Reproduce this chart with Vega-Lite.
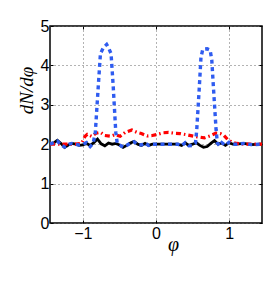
{
  "$schema": "https://vega.github.io/schema/vega-lite/v6.json",
  "width": 212,
  "height": 197,
  "autosize": "none",
  "padding": {"left": 50, "top": 26, "right": 11, "bottom": 61},
  "background": "white",
  "config": {
    "view": {"stroke": "black", "strokeWidth": 1.5},
    "axis": {
      "domain": false,
      "labelFont": "Liberation Sans",
      "labelFontSize": 16,
      "labelColor": "black",
      "tickColor": "black",
      "tickSize": -3,
      "tickWidth": 1,
      "gridColor": "#666",
      "gridDash": [1, 3],
      "gridWidth": 1
    }
  },
  "datasets": {
    "curves": [
      {"phi": -1.45, "v": 2.0, "s": "black"},
      {"phi": -1.4, "v": 2.03, "s": "black"},
      {"phi": -1.35, "v": 2.1, "s": "black"},
      {"phi": -1.3, "v": 2.02, "s": "black"},
      {"phi": -1.25, "v": 1.92, "s": "black"},
      {"phi": -1.2, "v": 1.98, "s": "black"},
      {"phi": -1.15, "v": 2.02, "s": "black"},
      {"phi": -1.1, "v": 2.0, "s": "black"},
      {"phi": -1.05, "v": 1.97, "s": "black"},
      {"phi": -1.0, "v": 1.98, "s": "black"},
      {"phi": -0.95, "v": 2.02, "s": "black"},
      {"phi": -0.9, "v": 1.97, "s": "black"},
      {"phi": -0.85, "v": 2.04, "s": "black"},
      {"phi": -0.8, "v": 2.13, "s": "black"},
      {"phi": -0.75, "v": 2.01, "s": "black"},
      {"phi": -0.7, "v": 1.96, "s": "black"},
      {"phi": -0.65, "v": 2.03, "s": "black"},
      {"phi": -0.6, "v": 2.0, "s": "black"},
      {"phi": -0.55, "v": 2.02, "s": "black"},
      {"phi": -0.5, "v": 1.98, "s": "black"},
      {"phi": -0.45, "v": 1.92, "s": "black"},
      {"phi": -0.4, "v": 1.97, "s": "black"},
      {"phi": -0.35, "v": 2.03, "s": "black"},
      {"phi": -0.3, "v": 2.07, "s": "black"},
      {"phi": -0.25, "v": 2.0, "s": "black"},
      {"phi": -0.2, "v": 1.97, "s": "black"},
      {"phi": -0.15, "v": 2.02, "s": "black"},
      {"phi": -0.1, "v": 1.97, "s": "black"},
      {"phi": -0.05, "v": 2.0, "s": "black"},
      {"phi": 0.0, "v": 2.0, "s": "black"},
      {"phi": 0.1, "v": 2.0, "s": "black"},
      {"phi": 0.2, "v": 2.0, "s": "black"},
      {"phi": 0.3, "v": 2.0, "s": "black"},
      {"phi": 0.35, "v": 1.97, "s": "black"},
      {"phi": 0.4, "v": 2.03, "s": "black"},
      {"phi": 0.45, "v": 1.97, "s": "black"},
      {"phi": 0.5, "v": 2.0, "s": "black"},
      {"phi": 0.55, "v": 2.04, "s": "black"},
      {"phi": 0.6, "v": 1.97, "s": "black"},
      {"phi": 0.65, "v": 1.92, "s": "black"},
      {"phi": 0.7, "v": 1.94, "s": "black"},
      {"phi": 0.75, "v": 2.02, "s": "black"},
      {"phi": 0.8, "v": 2.09, "s": "black"},
      {"phi": 0.85, "v": 2.0, "s": "black"},
      {"phi": 0.9, "v": 2.03, "s": "black"},
      {"phi": 0.95, "v": 1.97, "s": "black"},
      {"phi": 1.0, "v": 2.04, "s": "black"},
      {"phi": 1.05, "v": 2.0, "s": "black"},
      {"phi": 1.1, "v": 2.0, "s": "black"},
      {"phi": 1.2, "v": 2.02, "s": "black"},
      {"phi": 1.3, "v": 1.99, "s": "black"},
      {"phi": 1.45, "v": 2.0, "s": "black"},

      {"phi": -1.45, "v": 2.0, "s": "red"},
      {"phi": -1.3, "v": 2.0, "s": "red"},
      {"phi": -1.1, "v": 2.0, "s": "red"},
      {"phi": -1.02, "v": 2.02, "s": "red"},
      {"phi": -0.97, "v": 2.2, "s": "red"},
      {"phi": -0.94, "v": 2.25, "s": "red"},
      {"phi": -0.88, "v": 2.2, "s": "red"},
      {"phi": -0.82, "v": 2.28, "s": "red"},
      {"phi": -0.76, "v": 2.3, "s": "red"},
      {"phi": -0.7, "v": 2.22, "s": "red"},
      {"phi": -0.62, "v": 2.2, "s": "red"},
      {"phi": -0.56, "v": 2.24, "s": "red"},
      {"phi": -0.49, "v": 2.2, "s": "red"},
      {"phi": -0.42, "v": 2.3, "s": "red"},
      {"phi": -0.33, "v": 2.36, "s": "red"},
      {"phi": -0.26, "v": 2.3, "s": "red"},
      {"phi": -0.2, "v": 2.27, "s": "red"},
      {"phi": -0.12, "v": 2.21, "s": "red"},
      {"phi": -0.05, "v": 2.22, "s": "red"},
      {"phi": 0.02, "v": 2.25, "s": "red"},
      {"phi": 0.1, "v": 2.29, "s": "red"},
      {"phi": 0.17, "v": 2.3, "s": "red"},
      {"phi": 0.25, "v": 2.28, "s": "red"},
      {"phi": 0.33, "v": 2.27, "s": "red"},
      {"phi": 0.42, "v": 2.24, "s": "red"},
      {"phi": 0.52, "v": 2.2, "s": "red"},
      {"phi": 0.6, "v": 2.18, "s": "red"},
      {"phi": 0.66, "v": 2.16, "s": "red"},
      {"phi": 0.74, "v": 2.21, "s": "red"},
      {"phi": 0.82, "v": 2.28, "s": "red"},
      {"phi": 0.88, "v": 2.27, "s": "red"},
      {"phi": 0.93, "v": 2.22, "s": "red"},
      {"phi": 0.98, "v": 2.12, "s": "red"},
      {"phi": 1.03, "v": 2.06, "s": "red"},
      {"phi": 1.1, "v": 2.02, "s": "red"},
      {"phi": 1.2, "v": 2.0, "s": "red"},
      {"phi": 1.45, "v": 2.0, "s": "red"},

      {"phi": -1.45, "v": 2.0, "s": "blue"},
      {"phi": -1.4, "v": 2.04, "s": "blue"},
      {"phi": -1.35, "v": 2.08, "s": "blue"},
      {"phi": -1.3, "v": 1.98, "s": "blue"},
      {"phi": -1.25, "v": 1.93, "s": "blue"},
      {"phi": -1.2, "v": 2.0, "s": "blue"},
      {"phi": -1.15, "v": 2.02, "s": "blue"},
      {"phi": -1.1, "v": 2.0, "s": "blue"},
      {"phi": -1.05, "v": 1.98, "s": "blue"},
      {"phi": -1.0, "v": 2.0, "s": "blue"},
      {"phi": -0.95, "v": 2.04, "s": "blue"},
      {"phi": -0.9, "v": 1.94, "s": "blue"},
      {"phi": -0.86, "v": 2.02, "s": "blue"},
      {"phi": -0.83, "v": 2.3, "s": "blue"},
      {"phi": -0.79, "v": 3.46, "s": "blue"},
      {"phi": -0.76, "v": 4.3, "s": "blue"},
      {"phi": -0.72, "v": 4.45, "s": "blue"},
      {"phi": -0.675, "v": 4.53, "s": "blue"},
      {"phi": -0.65, "v": 4.45, "s": "blue"},
      {"phi": -0.615, "v": 4.3, "s": "blue"},
      {"phi": -0.585, "v": 3.46, "s": "blue"},
      {"phi": -0.55, "v": 2.3, "s": "blue"},
      {"phi": -0.53, "v": 2.02, "s": "blue"},
      {"phi": -0.5, "v": 1.98, "s": "blue"},
      {"phi": -0.45, "v": 1.93, "s": "blue"},
      {"phi": -0.4, "v": 1.97, "s": "blue"},
      {"phi": -0.35, "v": 2.03, "s": "blue"},
      {"phi": -0.3, "v": 2.06, "s": "blue"},
      {"phi": -0.25, "v": 1.99, "s": "blue"},
      {"phi": -0.2, "v": 1.98, "s": "blue"},
      {"phi": -0.15, "v": 2.03, "s": "blue"},
      {"phi": -0.1, "v": 1.97, "s": "blue"},
      {"phi": -0.05, "v": 2.0, "s": "blue"},
      {"phi": 0.0, "v": 2.0, "s": "blue"},
      {"phi": 0.1, "v": 2.0, "s": "blue"},
      {"phi": 0.2, "v": 2.0, "s": "blue"},
      {"phi": 0.3, "v": 2.0, "s": "blue"},
      {"phi": 0.35, "v": 1.96, "s": "blue"},
      {"phi": 0.4, "v": 2.04, "s": "blue"},
      {"phi": 0.45, "v": 1.96, "s": "blue"},
      {"phi": 0.5, "v": 1.97, "s": "blue"},
      {"phi": 0.54, "v": 2.03, "s": "blue"},
      {"phi": 0.557, "v": 2.36, "s": "blue"},
      {"phi": 0.593, "v": 3.46, "s": "blue"},
      {"phi": 0.615, "v": 4.2, "s": "blue"},
      {"phi": 0.64, "v": 4.41, "s": "blue"},
      {"phi": 0.7, "v": 4.42, "s": "blue"},
      {"phi": 0.74, "v": 4.39, "s": "blue"},
      {"phi": 0.763, "v": 4.14, "s": "blue"},
      {"phi": 0.785, "v": 3.46, "s": "blue"},
      {"phi": 0.822, "v": 2.36, "s": "blue"},
      {"phi": 0.84, "v": 2.03, "s": "blue"},
      {"phi": 0.87, "v": 1.96, "s": "blue"},
      {"phi": 0.9, "v": 2.04, "s": "blue"},
      {"phi": 0.95, "v": 1.97, "s": "blue"},
      {"phi": 1.0, "v": 2.05, "s": "blue"},
      {"phi": 1.05, "v": 2.0, "s": "blue"},
      {"phi": 1.1, "v": 2.0, "s": "blue"},
      {"phi": 1.2, "v": 2.02, "s": "blue"},
      {"phi": 1.3, "v": 1.99, "s": "blue"},
      {"phi": 1.45, "v": 2.0, "s": "blue"}
    ]
  },
  "data": {"name": "curves"},
  "layer": [
    {
      "transform": [{"filter": "datum.s === 'black'"}],
      "mark": {"type": "line", "color": "black", "strokeWidth": 2.8, "clip": true},
      "encoding": {
        "x": {
          "field": "phi", "type": "quantitative",
          "scale": {"domain": [-1.45, 1.45], "nice": false, "zero": false},
          "axis": {
            "orient": "bottom", "grid": true,
            "values": [-1, 0, 1], "format": "d", "labelPadding": 5,
            "title": "φ", "titleFont": "Liberation Serif", "titleFontStyle": "italic",
            "titleFontWeight": "normal", "titleFontSize": 20, "titleX": 123, "titleY": 21,
            "titleBaseline": "middle", "titleAlign": "center"
          }
        },
        "y": {
          "field": "v", "type": "quantitative",
          "scale": {"domain": [0, 5], "nice": false},
          "axis": {
            "orient": "left", "grid": true,
            "values": [0, 1, 2, 3, 4, 5], "labelPadding": 4,
            "title": "dN/dφ", "titleFont": "Liberation Serif", "titleFontStyle": "italic",
            "titleFontWeight": "normal", "titleFontSize": 19, "titleX": -24, "titleY": 64,
            "titleBaseline": "middle", "titleAlign": "center", "titleAngle": -90
          }
        }
      }
    },
    {
      "transform": [{"filter": "datum.s === 'red'"}],
      "mark": {"type": "line", "color": "#ff0000", "strokeWidth": 3.2, "strokeDash": [5, 3, 1.5, 3], "clip": true},
      "encoding": {
        "x": {"field": "phi", "type": "quantitative", "axis": null},
        "y": {"field": "v", "type": "quantitative", "axis": null}
      }
    },
    {
      "transform": [{"filter": "datum.s === 'blue'"}],
      "mark": {"type": "line", "color": "#2f5cf0", "strokeWidth": 3.4, "strokeDash": [4, 3.5], "clip": true},
      "encoding": {
        "x": {"field": "phi", "type": "quantitative", "axis": null},
        "y": {"field": "v", "type": "quantitative", "axis": null}
      }
    },
    {
      "mark": {"type": "point", "opacity": 0},
      "encoding": {
        "x": {"field": "phi", "type": "quantitative",
          "axis": {"orient": "top", "values": [-1, 0, 1], "labels": false, "grid": false, "title": null}},
        "y": {"field": "v", "type": "quantitative",
          "axis": {"orient": "right", "values": [0, 1, 2, 3, 4, 5], "labels": false, "grid": false, "title": null}}
      }
    }
  ],
  "resolve": {"axis": {"x": "independent", "y": "independent"}}
}
